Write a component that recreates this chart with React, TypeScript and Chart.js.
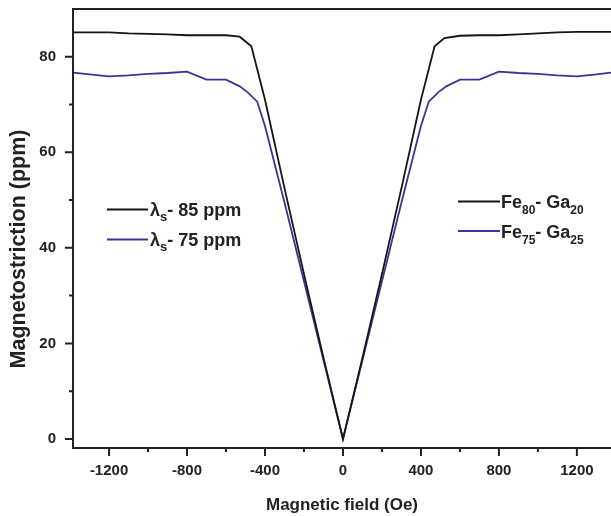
import React, { useEffect, useRef } from "react";
import { Chart, registerables } from "chart.js";

Chart.register(...registerables);

// ---- data ----
const FIELD_FE80 = [-1385, -1200, -1100, -1000, -900, -800, -700, -600, -530, -470, -400, -300, -200, -100, 0, 100, 200, 300, 400, 470, 520, 600, 700, 800, 900, 1000, 1100, 1200, 1375];
const MS_FE80 = [85.1, 85.1, 84.9, 84.8, 84.7, 84.5, 84.5, 84.5, 84.2, 82.2, 71.0, 52.5, 34.5, 17.0, 0, 17.0, 34.5, 52.5, 71.0, 82.2, 83.9, 84.4, 84.5, 84.5, 84.7, 84.9, 85.1, 85.2, 85.2];

const FIELD_FE75 = [-1385, -1300, -1200, -1100, -1000, -900, -800, -700, -600, -530, -490, -440, -400, -300, -200, -100, 0, 100, 200, 300, 400, 440, 490, 530, 600, 700, 800, 900, 1000, 1100, 1200, 1300, 1375];
const MS_FE75 = [76.7, 76.3, 75.9, 76.1, 76.4, 76.6, 76.9, 75.2, 75.2, 73.8, 72.6, 70.6, 65.5, 49.5, 33.0, 16.5, 0, 16.5, 33.0, 49.5, 65.5, 70.6, 72.6, 73.8, 75.2, 75.2, 76.9, 76.6, 76.4, 76.1, 75.9, 76.3, 76.7];

const X_MIN = -1385;
const X_MAX = 1375;
const Y_MIN = -1.9;
const Y_MAX = 90;

// tick positions (major ones carry labels)
const X_TICKS = [-1200, -1000, -800, -600, -400, -200, 0, 200, 400, 600, 800, 1000, 1200];
const Y_TICKS = [0, 10, 20, 30, 40, 50, 60, 70, 80];

const X_TITLE = "Magnetic field (Oe)";
const Y_TITLE = "Magnetostriction (ppm)";

// legend texts: [text, isSubscript]
const LEGEND_LEFT: [string, boolean][][] = [
  [["λ", false], ["s", true], ["- 85 ppm", false]],
  [["λ", false], ["s", true], ["- 75 ppm", false]],
];
const LEGEND_RIGHT: [string, boolean][][] = [
  [["Fe", false], ["80", true], ["- Ga", false], ["20", true]],
  [["Fe", false], ["75", true], ["- Ga", false], ["25", true]],
];

const BLACK = "#151515";
const BLUE = "#3b3497";
const AXIS = "#222222";
const FONT = "'Liberation Sans', Arial, sans-serif";

function drawRich(ctx: CanvasRenderingContext2D, x: number, y: number, parts: [string, boolean][], size: number, subSize: number, subDy: number) {
  let cx = x;
  ctx.textAlign = "left";
  ctx.textBaseline = "alphabetic";
  for (const [text, sub] of parts) {
    ctx.font = `bold ${sub ? subSize : size}px ${FONT}`;
    ctx.fillText(text, cx, sub ? y + subDy : y);
    cx += ctx.measureText(text).width;
  }
}

const framePlugin = {
  id: "frameAndLegend",
  afterDraw(chart: any) {
    const { ctx, chartArea: a, scales } = chart;
    const xs = scales.x;
    const ys = scales.y;
    ctx.save();
    ctx.strokeStyle = AXIS;
    ctx.lineWidth = 2;
    ctx.lineCap = "butt";
    ctx.beginPath();
    ctx.moveTo(a.right + 2, a.top);
    ctx.lineTo(a.left, a.top);
    ctx.lineTo(a.left, a.bottom);
    ctx.lineTo(a.right + 2, a.bottom);
    ctx.stroke();
    ctx.beginPath();
    for (const t of ys.ticks) {
      const y = ys.getPixelForValue(t.value);
      const len = t.value % 20 === 0 ? 8 : 4;
      ctx.moveTo(a.left - len, y);
      ctx.lineTo(a.left, y);
    }
    for (const t of xs.ticks) {
      const x = xs.getPixelForValue(t.value);
      const len = t.value % 400 === 0 ? 8 : 4;
      ctx.moveTo(x, a.bottom);
      ctx.lineTo(x, a.bottom + len);
    }
    ctx.stroke();

    // y-axis title
    ctx.fillStyle = AXIS;
    ctx.save();
    ctx.translate(19, 249);
    ctx.rotate(-Math.PI / 2);
    ctx.font = `bold 21.5px ${FONT}`;
    ctx.textAlign = "center";
    ctx.textBaseline = "middle";
    ctx.fillText(Y_TITLE, 0, 0);
    ctx.restore();

    // legends
    const leftRows = [
      { color: BLACK, y: 209.5 },
      { color: BLUE, y: 239.5 },
    ];
    leftRows.forEach((r, i) => {
      ctx.strokeStyle = r.color;
      ctx.lineWidth = 2;
      ctx.beginPath();
      ctx.moveTo(107, r.y);
      ctx.lineTo(148, r.y);
      ctx.stroke();
      drawRich(ctx, 150, r.y + 6.5, LEGEND_LEFT[i], 18, 13, 5);
    });
    const rightRows = [
      { color: BLACK, y: 201.5 },
      { color: BLUE, y: 231 },
    ];
    rightRows.forEach((r, i) => {
      ctx.strokeStyle = r.color;
      ctx.lineWidth = 2;
      ctx.beginPath();
      ctx.moveTo(458, r.y);
      ctx.lineTo(500, r.y);
      ctx.stroke();
      drawRich(ctx, 501, r.y + 6.5, LEGEND_RIGHT[i], 18, 12, 6);
    });
    ctx.restore();
  },
};

export default function App() {
  const ref = useRef<HTMLCanvasElement | null>(null);
  useEffect(() => {
    if (!ref.current) return;
    const chart = new Chart(ref.current, {
      type: "line",
      data: {
        datasets: [
          {
            label: "Fe80- Ga20",
            data: FIELD_FE80.map((x, i) => ({ x, y: MS_FE80[i] })),
            borderColor: BLACK,
            borderWidth: 1.8,
            pointRadius: 0,
            tension: 0,
            fill: false,
          },
          {
            label: "Fe75- Ga25",
            data: FIELD_FE75.map((x, i) => ({ x, y: MS_FE75[i] })),
            borderColor: BLUE,
            borderWidth: 1.8,
            pointRadius: 0,
            tension: 0,
            fill: false,
          },
        ],
      },
      options: {
        responsive: false,
        animation: false,
        layout: { autoPadding: false, padding: { top: 9, right: 0, left: 0, bottom: 0 } },
        plugins: { legend: { display: false }, tooltip: { enabled: false } },
        scales: {
          x: {
            type: "linear",
            min: X_MIN,
            max: X_MAX,
            grid: { display: false },
            border: { display: false },
            afterBuildTicks: (s: any) => {
              s.ticks = X_TICKS.map((value) => ({ value }));
            },
            afterFit: (s: any) => {
              s.height = 68;
              s.paddingLeft = 0;
              s.paddingRight = 0;
            },
            ticks: {
              autoSkip: false,
              maxRotation: 0,
              padding: 6,
              color: AXIS,
              font: { family: FONT, size: 15, weight: "bold" },
              callback: (v: any) => (Number(v) % 400 === 0 ? String(v) : ""),
            },
            title: {
              display: true,
              text: X_TITLE,
              color: AXIS,
              font: { family: FONT, size: 17, weight: "bold" },
              padding: { top: 0, bottom: 0 },
            },
          },
          y: {
            type: "linear",
            min: Y_MIN,
            max: Y_MAX,
            grid: { display: false },
            border: { display: false },
            afterBuildTicks: (s: any) => {
              s.ticks = Y_TICKS.map((value) => ({ value }));
            },
            afterFit: (s: any) => {
              s.width = 73;
              s.paddingTop = 0;
              s.paddingBottom = 0;
            },
            ticks: {
              autoSkip: false,
              padding: 9,
              color: AXIS,
              font: { family: FONT, size: 15, weight: "bold" },
              callback: (v: any) => (Number(v) % 20 === 0 ? String(v) : ""),
            },
          },
        },
      },
      plugins: [framePlugin],
    });
    return () => chart.destroy();
  }, []);
  return (
    <div style={{ position: "fixed", left: 0, top: 0, width: 611, height: 516, background: "#fff" }}>
      <canvas ref={ref} width={611} height={516} style={{ display: "block" }} />
    </div>
  );
}
